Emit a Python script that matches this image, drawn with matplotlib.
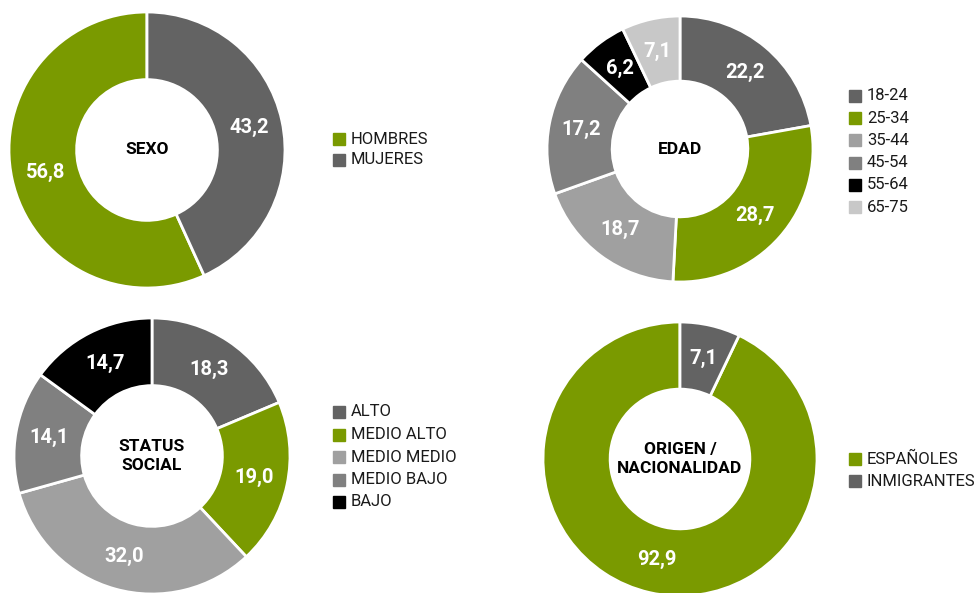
import numpy as np
import matplotlib
matplotlib.use('Agg')
import matplotlib.pyplot as plt
from matplotlib.patches import Rectangle

W, H = 978, 593

GREEN = '#7a9a00'
DARK = '#636363'
MID = '#808080'
LIGHT = '#a0a0a0'
PALE = '#c8c8c8'
BLACK = '#000000'

# data
sexo_labels = ['HOMBRES', 'MUJERES']
sexo_values = [56.8, 43.2]
sexo_colors = [GREEN, DARK]

edad_labels = ['18-24', '25-34', '35-44', '45-54', '55-64', '65-75']
edad_values = [22.2, 28.7, 18.7, 17.2, 6.2, 7.1]
edad_colors = [DARK, GREEN, LIGHT, MID, BLACK, PALE]

status_labels = ['ALTO', 'MEDIO ALTO', 'MEDIO MEDIO', 'MEDIO BAJO', 'BAJO']
status_values = [18.3, 19.0, 32.0, 14.1, 14.7]
status_colors = [DARK, GREEN, LIGHT, MID, BLACK]

origen_labels = ['ESPAÑOLES', 'INMIGRANTES']
origen_values = [92.9, 7.1]
origen_colors = [GREEN, DARK]

plt.rcParams['font.family'] = ['Roboto', 'DejaVu Sans']

fig = plt.figure(figsize=(W / 100, H / 100), dpi=100)


def fx(px):
    return px / W


def fy(py):
    return 1 - py / H


def donut(cx, cy, r, values, colors, counterclock, title):
    ax = fig.add_axes([fx(cx - r), fy(cy + r), 2 * r / W, 2 * r / H])
    wedges, _ = ax.pie(values, colors=colors, startangle=90, counterclock=counterclock,
                       wedgeprops=dict(width=0.49, edgecolor='white', linewidth=2))
    ax.set_xlim(-1, 1)
    ax.set_ylim(-1, 1)
    ax.set_aspect('equal')
    ax.axis('off')
    for w, v in zip(wedges, values):
        mid = np.deg2rad((w.theta1 + w.theta2) / 2)
        rr = 0.755
        ax.text(rr * np.cos(mid), rr * np.sin(mid), f'{v:.1f}'.replace('.', ','),
                color='white', fontsize=14.5, fontweight='bold', ha='center', va='center')
    ax.text(0, 0, title, color='black', fontsize=12.5, fontweight='bold',
            ha='center', va='center', linespacing=1.3)
    return ax


def legend(lx, ly, labels, colors, step=22):
    for i, (lab, col) in enumerate(zip(labels, colors)):
        y = ly + i * step
        fig.patches.append(Rectangle((fx(lx), fy(y + 6)), 12 / W, 12 / H,
                                     transform=fig.transFigure, color=col))
        fig.text(fx(lx + 18), fy(y), lab, fontsize=12, color='#1a1a1a',
                 ha='left', va='center')


donut(147, 150, 138, sexo_values, sexo_colors, True, 'SEXO')
legend(333, 139, sexo_labels, sexo_colors, step=21)

donut(680, 149, 133, edad_values, edad_colors, False, 'EDAD')
legend(849, 96, edad_labels, edad_colors, step=22.2)

donut(152, 456, 138, status_values, status_colors, False, 'STATUS\nSOCIAL')
legend(333, 412, status_labels, status_colors, step=22.5)

donut(680, 459, 137, origen_values, origen_colors, True, 'ORIGEN /\nNACIONALIDAD')
legend(849, 459, origen_labels, origen_colors, step=22)

fig.savefig('out.png', dpi=100)
